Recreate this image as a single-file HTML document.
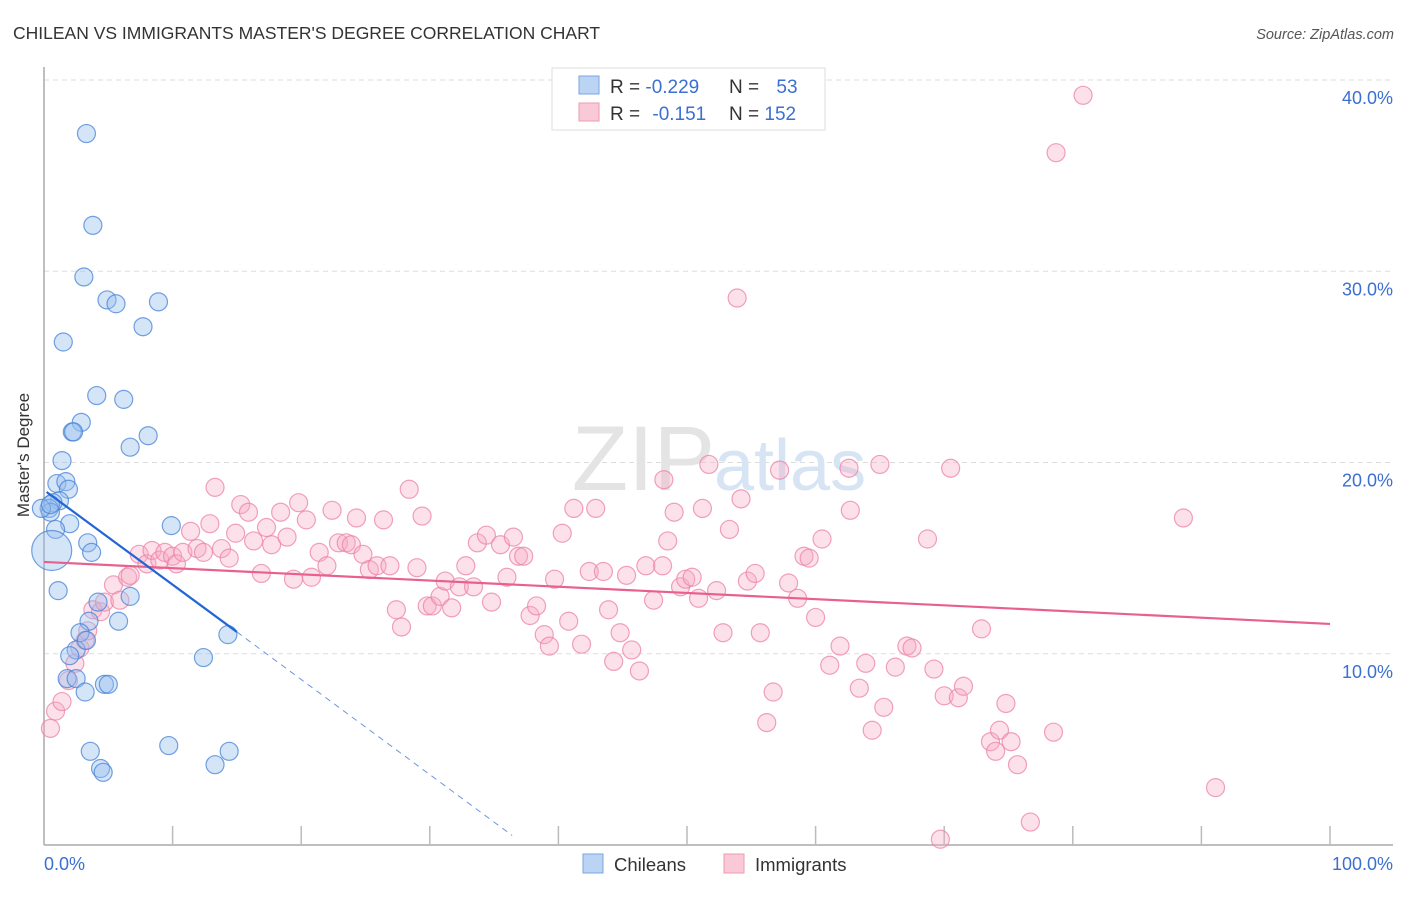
<!DOCTYPE html>
<html><head><meta charset="utf-8"><style>
body{margin:0;background:#fff;font-family:"Liberation Sans",sans-serif;}
svg text{font-family:"Liberation Sans",sans-serif;}
</style></head><body>
<svg id="chart" width="1406" height="892">
<text x="13" y="39" font-size="17.5" fill="#333">CHILEAN VS IMMIGRANTS MASTER'S DEGREE CORRELATION CHART</text>
<text x="1394" y="39" font-size="14.5" fill="#555" font-style="italic" text-anchor="end">Source: ZipAtlas.com</text>
<g id="grid"></g>
<text x="715" y="490" font-size="92" fill="#e4e4e4" text-anchor="end" font-family="Liberation Serif">ZIP</text>
<text x="714" y="490" font-size="72" fill="#d7e4f3">atlas</text>
<g id="axes"></g>
<g id="pts"></g>
<g id="lines"></g>
<text x="29" y="455" font-size="17" fill="#333" text-anchor="middle" transform="rotate(-90 29 455)">Master's Degree</text>
<g>
<rect x="552" y="68" width="273" height="62" fill="#fff" stroke="#ddd"/>
<rect x="579" y="76" width="20" height="18" fill="#bcd4f4" stroke="#7aa5e0"/>
<rect x="579" y="103" width="20" height="18" fill="#f9c9d7" stroke="#ee9ab3"/>
<text x="610" y="93" font-size="19" fill="#333">R = <tspan fill="#3b6fd1">-0.229</tspan></text>
<text x="729" y="93" font-size="19" fill="#333">N = <tspan dx="12" fill="#3b6fd1">53</tspan></text>
<text x="610" y="120" font-size="19" fill="#333">R = <tspan dx="7" fill="#3b6fd1">-0.151</tspan></text>
<text x="729" y="120" font-size="19" fill="#333">N = <tspan fill="#3b6fd1">152</tspan></text>
</g>
<g>
<rect x="583" y="854" width="20" height="19" fill="#bcd4f4" stroke="#7aa5e0"/>
<text x="614" y="871" font-size="18.5" fill="#333">Chileans</text>
<rect x="724" y="854" width="20" height="19" fill="#f9c9d7" stroke="#ee9ab3"/>
<text x="755" y="871" font-size="18.5" fill="#333">Immigrants</text>
</g>
</svg>
<script>
const yTicks=[10,20,30,40];
const yTickLabels=["10.0%","20.0%","30.0%","40.0%"];
const xTickCount=10;
const chileanX=[3.3,3.8,3.1,4.9,5.6,8.9,7.7,1.5,4.1,6.2,2.9,2.2,2.3,8.1,6.7,1.4,1.0,1.7,1.9,1.2,0.7,0.4,0.5,2.0,0.9,9.9,3.4,3.7,1.1,4.2,3.5,5.8,6.7,2.8,2.5,2.0,3.3,1.8,2.5,4.7,5.0,14.3,12.4,3.2,3.6,4.4,4.6,9.7,14.4,13.3,0.6,-0.2,0.5];
const chileanY=[37.2,32.4,29.7,28.5,28.3,28.4,27.1,26.3,23.5,23.3,22.1,21.6,21.6,21.4,20.8,20.1,18.9,19.0,18.6,18.0,17.9,17.6,17.4,16.8,16.5,16.7,15.8,15.3,13.3,12.7,11.7,11.7,13.0,11.1,10.2,9.9,10.7,8.7,8.7,8.4,8.4,11.0,9.8,8.0,4.9,4.0,3.8,5.2,4.9,4.2,15.4,17.6,17.8];
const chileanR=[9,9,9,9,9,9,9,9,9,9,9,9,9,9,9,9,9,9,9,9,9,9,9,9,9,9,9,9,9,9,9,9,9,9,9,9,9,9,9,9,9,9,9,9,9,9,9,9,9,9,20,9,9];
const immX=[0.5,0.9,1.4,1.9,2.4,2.8,3.2,3.4,3.8,4.4,4.7,5.4,5.9,6.5,6.7,7.4,8.0,8.4,9.0,9.4,10.0,10.3,10.8,11.4,11.9,12.4,12.9,13.3,13.8,14.4,14.9,15.3,15.9,16.3,16.9,17.3,17.7,18.4,18.9,19.4,19.8,20.4,20.8,21.4,22.0,22.4,22.9,23.5,23.9,24.3,24.8,25.3,25.9,26.4,26.9,27.4,27.8,28.4,29.0,29.4,29.8,30.2,30.8,31.2,31.7,32.3,32.8,33.4,33.7,34.4,34.8,35.5,36.0,36.5,36.9,37.3,37.8,38.3,38.9,39.3,39.7,40.3,40.8,41.2,41.8,42.4,42.9,43.5,43.9,44.3,44.8,45.3,45.7,46.3,46.8,47.4,48.1,48.5,49.0,49.5,49.9,50.4,50.9,51.2,51.7,52.3,52.8,53.3,53.9,54.2,54.7,55.3,55.7,56.2,56.7,57.2,57.9,58.6,59.1,59.5,60.0,60.5,61.1,61.9,62.6,62.7,63.4,63.9,64.4,65.0,65.3,66.2,67.1,67.5,68.7,69.2,70.0,70.5,71.1,71.5,72.9,73.6,74.0,74.3,74.8,75.2,75.7,76.7,78.5,78.7,80.8,88.6,91.1,69.7,48.2];
const immY=[6.1,7.0,7.5,8.6,9.5,10.3,10.7,11.2,12.3,12.2,12.7,13.6,12.8,14.0,14.1,15.2,14.7,15.4,14.9,15.3,15.1,14.7,15.3,16.4,15.5,15.3,16.8,18.7,15.5,15.0,16.3,17.8,17.4,15.9,14.2,16.6,15.7,17.4,16.1,13.9,17.9,17.0,14.0,15.3,14.6,17.5,15.8,15.8,15.7,17.1,15.2,14.4,14.6,17.0,14.6,12.3,11.4,18.6,14.5,17.2,12.5,12.5,13.0,13.8,12.4,13.5,14.6,13.5,15.8,16.2,12.7,15.7,14.0,16.1,15.1,15.1,12.0,12.5,11.0,10.4,13.9,16.3,11.7,17.6,10.5,14.3,17.6,14.3,12.3,9.6,11.1,14.1,10.2,9.1,14.6,12.8,14.6,15.9,17.4,13.5,13.9,14.0,12.9,17.6,19.9,13.3,11.1,16.5,28.6,18.1,13.8,14.2,11.1,6.4,8.0,19.6,13.7,12.9,15.1,15.0,11.9,16.0,9.4,10.4,19.7,17.5,8.2,9.5,6.0,19.9,7.2,9.3,10.4,10.3,16.0,9.2,7.8,19.7,7.7,8.3,11.3,5.4,4.9,6.0,7.4,5.4,4.2,1.2,5.9,36.2,39.2,17.1,3.0,0.3,19.1];
const blueTrend=[0.2,18.46,15,11.14,36.4,0.5];
const pinkTrend=[0,14.8,100,11.56];
const L=44,R=1330,T=80,B=845;
function xs(v){return L+(R-L)*v/100;}
function ys(v){return B-(B-T)*v/40;}
const NS="http://www.w3.org/2000/svg";
function mk(tag,attrs,parent){const e=document.createElementNS(NS,tag);for(const k in attrs)e.setAttribute(k,attrs[k]);parent.appendChild(e);return e;}
const grid=document.getElementById('grid'),axes=document.getElementById('axes'),pts=document.getElementById('pts'),lines=document.getElementById('lines');
yTicks.forEach((t,i)=>{
  const g=mk('line',{x1:L,x2:1393,y1:ys(t),y2:ys(t),stroke:'#ddd','stroke-dasharray':'5,4'},grid);
  
  
  const tx=mk('text',{x:1393,y:ys(t)+24,'font-size':18,fill:'#3b6fd1','text-anchor':'end'},axes);
  tx.textContent=yTickLabels[i];
  
  
});
const ya=mk('line',{x1:L,x2:L,y1:67,y2:B,stroke:'#aaa','stroke-width':1.5},axes);


const xa=mk('line',{x1:L,x2:1393,y1:B,y2:B,stroke:'#aaa','stroke-width':1.5},axes);


for(let i=1;i<=xTickCount;i++){
  const tk=mk('line',{x1:xs(i*10),x2:xs(i*10),y1:826,y2:B,stroke:'#bbb','stroke-width':1.5},axes);
  
  
}
const x0=mk('text',{x:44,y:870,'font-size':18,fill:'#3b6fd1'},axes);x0.textContent='0.0%';


const x1=mk('text',{x:1393,y:870,'font-size':18,fill:'#3b6fd1','text-anchor':'end'},axes);x1.textContent='100.0%';


immX.forEach((v,i)=>{
  const c=mk('circle',{cx:xs(v),cy:ys(immY[i]),r:9,fill:'rgba(246,170,195,0.35)',stroke:'rgba(236,130,165,0.75)','stroke-width':1.2},pts);
  
  
});
chileanX.forEach((v,i)=>{
  const c=mk('circle',{cx:xs(v),cy:ys(chileanY[i]),r:chileanR[i],fill:'rgba(150,190,238,0.4)',stroke:'rgba(70,130,215,0.75)','stroke-width':1.2},pts);
  
  
});
const pl=mk('line',{x1:xs(pinkTrend[0]),y1:ys(pinkTrend[1]),x2:xs(pinkTrend[2]),y2:ys(pinkTrend[3]),stroke:'#e8608c','stroke-width':2.2},lines);


const bl=mk('line',{x1:xs(blueTrend[0]),y1:ys(blueTrend[1]),x2:xs(blueTrend[2]),y2:ys(blueTrend[3]),stroke:'#2266d6','stroke-width':2.2},lines);


const bd=mk('line',{x1:xs(blueTrend[2]),y1:ys(blueTrend[3]),x2:xs(blueTrend[4]),y2:ys(blueTrend[5]),stroke:'#6f95dd','stroke-width':1,'stroke-dasharray':'6,5'},lines);


</script>
</body></html>
